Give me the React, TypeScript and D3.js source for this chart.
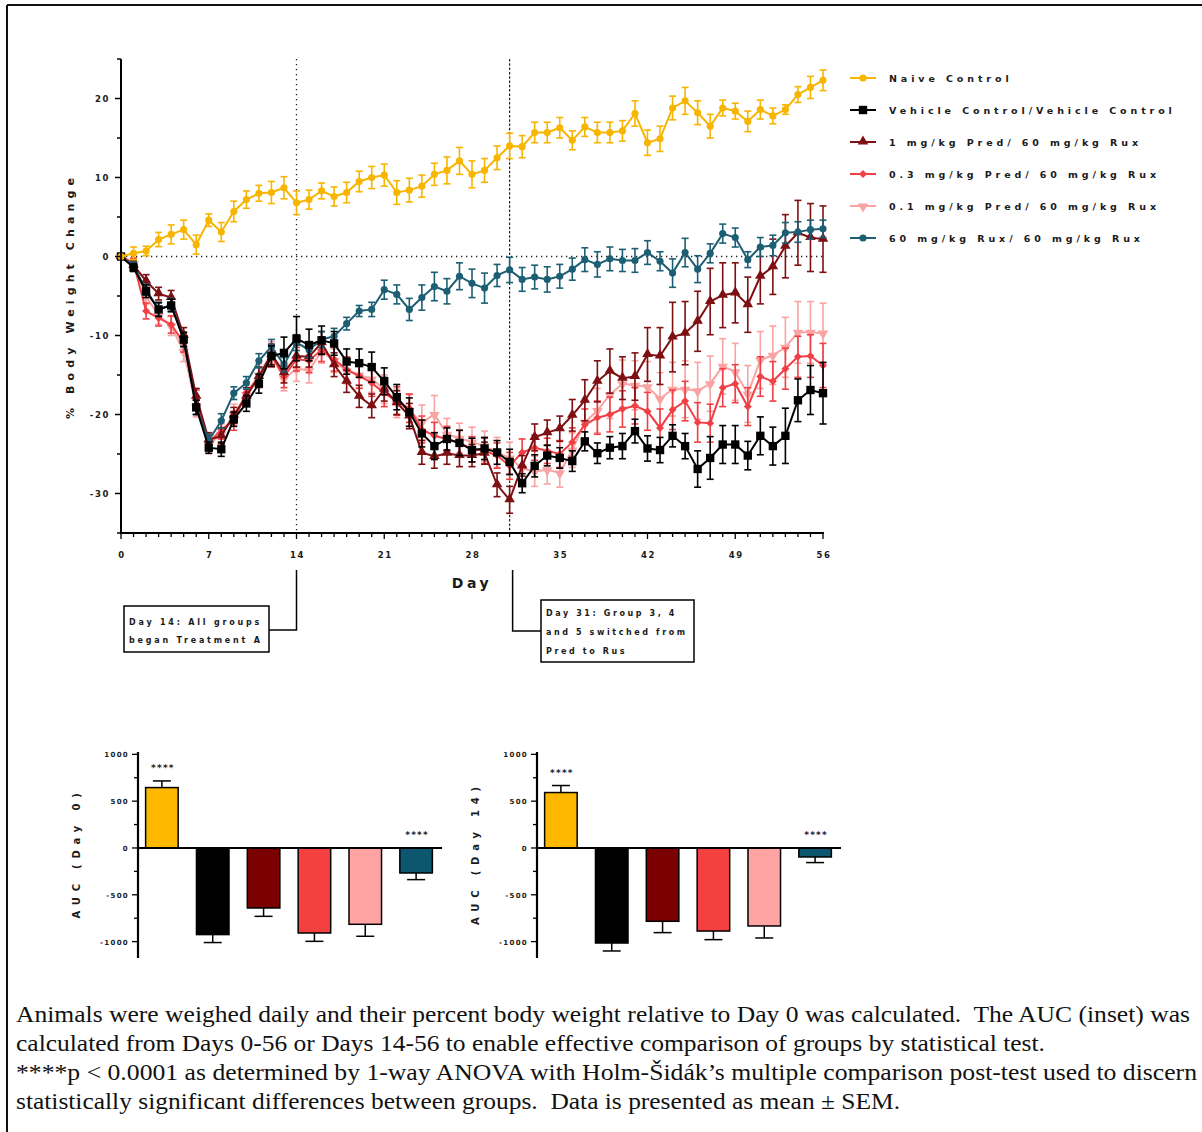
import React from "react";
import * as d3 from "d3";

const days = d3.range(0, 57);
const dayTicks = [0, 7, 14, 21, 28, 35, 42, 49, 56];
const yTicks = [20, 10, 0, -10, -20, -30];

const seriesNames = [
  "Naive Control",
  "Vehicle Control/Vehicle Control",
  "1 mg/kg Pred/ 60 mg/kg Rux",
  "0.3 mg/kg Pred/ 60 mg/kg Rux",
  "0.1 mg/kg Pred/ 60 mg/kg Rux",
  "60 mg/kg Rux/ 60 mg/kg Rux",
];
const seriesColors = ["#F7B500", "#000000", "#7E0F12", "#F04045", "#F9A3A3", "#1C5F74"];
const barColors = ["#FFB800", "#000000", "#7B0000", "#F54040", "#FFA3A3", "#0D5670"];

const naive = [0,0.4,0.7,2.15,2.8,3.4,1.5,4.6,3.1,5.7, 7.2,8.0,8.1,8.7,6.8,7.2,8.3,7.6,8.1,9.5, 10.0,10.3,8.1,8.4,8.9,10.4,10.9,12.1,10.4,10.9, 12.5,14.0,13.9,15.7,15.7,16.3,14.7,16.4,15.7,15.7, 15.9,18.1,14.4,14.9,18.8,19.7,18.2,16.5,18.8,18.4, 17.1,18.6,17.8,18.6,20.5,21.4,22.3];
const naiveSem = [0,0.8,0.6,0.9,1.2,1.2,1.2,0.8,1.2,1.3, 1.1,1.0,1.4,1.4,1.5,1.2,1.0,1.2,1.3,1.3, 1.4,1.4,1.5,1.5,1.4,1.4,1.7,1.7,1.7,1.5, 1.5,1.6,1.4,1.3,1.3,1.3,1.2,1.2,1.3,1.3, 1.3,1.6,1.6,1.6,1.5,1.7,1.5,1.5,1.0,1.0, 1.3,1.2,1.0,0.6,1.0,1.4,1.3];

const vehicle = [0,-1.4,-4.4,-6.7,-6.2,-10.5,-19.1,-24.2,-24.4,-20.6, -18.6,-16.1,-12.6,-12.2,-10.4,-11.2,-10.6,-11.0,-13.3,-13.5, -14.0,-15.8,-17.8,-19.7,-22.4,-24.0,-23.1,-23.6,-24.5,-24.3, -24.8,-26.0,-28.7,-26.5,-25.2,-25.5,-25.9,-23.4,-24.9,-24.2, -24.0,-22.1,-24.3,-24.5,-22.7,-24.0,-26.9,-25.5,-23.8,-23.8, -25.2,-22.7,-24.0,-22.7,-18.2,-16.9,-17.3];
const vehicleSem = [0,0.5,0.8,0.9,0.8,0.9,0.9,0.7,0.9,0.9, 1.0,1.2,1.3,2.0,2.8,2.0,1.8,1.5,1.6,1.8, 1.9,1.7,1.6,1.8,1.7,1.7,1.4,1.6,1.5,1.4, 1.5,1.6,1.2,1.4,1.3,1.3,1.3,1.2,1.3,1.4, 1.6,1.5,1.6,1.6,1.4,1.6,2.3,2.7,2.4,2.4, 1.8,2.4,2.4,3.5,2.7,3.1,3.9];

const pred1 = [0,-1.1,-3.1,-4.7,-5.2,-10.0,-17.7,-23.2,-22.7,-20.1, -17.7,-15.2,-12.4,-14.7,-12.6,-12.7,-10.9,-13.7,-15.8,-17.7, -18.9,-16.8,-18.5,-20.2,-24.8,-25.3,-24.9,-25.2,-25.2,-24.9, -28.9,-30.8,-26.5,-22.9,-22.3,-21.8,-20.1,-18.2,-15.8,-14.5, -15.4,-15.2,-12.4,-12.6,-10.2,-9.7,-8.2,-5.7,-4.9,-4.6, -6.1,-2.5,-1.3,1.3,3.0,2.4,2.2];
const pred1Sem = [0,0.6,0.8,0.8,0.9,1.0,1.0,0.9,1.0,1.0, 1.1,1.2,1.3,1.3,1.4,1.3,1.4,1.5,1.4,1.4, 1.5,1.5,1.5,1.6,1.5,1.5,1.4,1.4,1.4,1.4, 1.5,1.7,1.3,1.7,1.6,1.6,2.0,2.6,2.6,2.8, 2.7,3.0,3.4,3.6,4.4,4.0,3.8,4.2,4.1,3.8, 3.5,3.5,3.5,4.0,4.1,4.3,4.2];

const pred03 = [0,-0.8,-6.9,-7.8,-8.6,-10.9,-18.1,-23.6,-21.9,-20.8, -17.2,-15.3,-12.6,-15.2,-13.0,-13.2,-11.8,-13.0,-14.3,-15.1, -16.0,-17.3,-18.3,-19.2,-21.9,-22.7,-23.1,-23.6,-24.4,-24.6, -25.2,-26.5,-24.8,-24.2,-24.6,-25.0,-23.5,-21.3,-20.4,-20.0, -19.3,-18.9,-19.6,-21.7,-19.4,-18.3,-21.0,-21.1,-16.6,-16.1, -19.0,-15.2,-15.8,-14.2,-12.7,-12.6,-13.8];
const pred03Sem = [0,0.6,1.0,1.0,1.1,1.2,1.2,1.0,1.2,1.2, 1.3,1.3,1.4,1.4,1.5,1.5,1.5,1.5,1.6,1.6, 1.7,1.7,1.8,1.8,1.7,1.7,1.6,1.6,1.6,1.6, 1.6,1.7,1.7,1.6,1.6,1.7,1.8,2.0,2.1,2.2, 2.3,2.3,2.4,2.4,2.5,2.5,2.5,2.4,2.4,2.4, 2.4,2.5,2.5,2.6,2.6,2.7,2.8];

const pred01 = [0,-0.9,-5.0,-7.5,-8.8,-12.0,-19.0,-23.8,-22.5,-20.0, -17.5,-15.0,-12.2,-15.5,-14.2,-14.4,-12.0,-13.2,-14.5,-15.0, -15.5,-16.8,-18.6,-19.5,-21.0,-20.0,-22.5,-23.0,-23.5,-24.0, -24.8,-25.5,-26.8,-27.2,-27.0,-27.4,-24.5,-21.0,-19.5,-17.5, -16.1,-16.3,-16.5,-18.0,-16.8,-16.8,-17.0,-16.1,-13.9,-14.6, -17.4,-13.1,-12.5,-11.5,-9.6,-9.6,-9.7];
const pred01Sem = [0,0.6,1.0,1.1,1.2,1.3,1.3,1.2,1.3,1.3, 1.3,1.4,1.4,1.5,1.6,1.6,1.5,1.5,1.6,1.6, 1.7,1.8,1.8,2.0,2.2,2.4,2.0,1.9,1.9,1.9, 1.9,2.0,2.0,1.9,1.8,1.8,2.2,2.6,2.8,3.0, 3.0,3.1,3.2,3.3,3.4,3.6,3.6,3.5,3.5,3.6, 3.6,3.6,3.7,3.8,3.9,3.9,3.8];

const rux = [0,-1.2,-4.2,-6.7,-6.1,-10.5,-19.1,-23.3,-20.8,-17.3, -16.0,-13.2,-11.4,-13.7,-10.9,-11.8,-10.5,-10.1,-8.5,-6.9, -6.7,-4.2,-4.8,-6.7,-5.2,-3.8,-4.4,-2.5,-3.4,-4.0, -2.4,-1.7,-2.9,-2.6,-2.9,-2.5,-1.6,-0.4,-1.0,-0.3, -0.5,-0.5,0.5,-0.6,-2.1,0.5,-1.6,0.4,2.9,2.4, -0.4,1.2,1.4,3.0,3.1,3.4,3.5];
const ruxSem = [0,0.5,0.7,0.8,0.8,0.9,0.9,0.8,0.9,0.8, 0.8,0.9,0.9,0.9,1.0,1.0,1.0,1.0,0.8,0.7, 0.9,1.2,1.2,1.4,1.6,1.8,1.6,1.7,1.8,1.9, 1.4,1.6,1.5,1.5,1.6,1.5,1.4,1.5,1.6,1.5, 1.4,1.5,1.5,1.2,1.8,1.8,1.7,1.2,1.2,1.2, 1.0,1.2,1.3,1.3,1.3,1.2,1.1];

const aucDay0 = [645, -925, -641, -908, -815, -267];
const aucDay0Sem = [71, 85, 89, 89, 128, 71];
const aucDay14 = [592, -1015, -783, -887, -833, -96];
const aucDay14Sem = [75, 85, 121, 92, 128, 60];
const aucTicks = [1000, 500, 0, -500, -1000];
const aucStars = ["****", "", "", "", "", "****"];

const captionLines = [
  "Animals were weighed daily and their percent body weight relative to Day 0 was calculated.\u00A0 The AUC (inset) was",
  "calculated from Days 0-56 or Days 14-56 to enable effective comparison of groups by statistical test.",
  "****p < 0.0001 as determined by 1-way ANOVA with Holm-Šidák’s multiple comparison post-test used to discern",
  "statistically significant differences between groups.\u00A0 Data is presented as mean ± SEM.",
];
const captionWidths = [1174, 1029, 1181, 884];

const SANS = "'DejaVu Sans', 'Liberation Sans', sans-serif";

type Series = { name: string; color: string; values: number[]; sem: number[]; shape: string; size: number };

const series: Series[] = [
  { name: seriesNames[0], color: seriesColors[0], values: naive, sem: naiveSem, shape: "circle", size: 40 },
  { name: seriesNames[1], color: seriesColors[1], values: vehicle, sem: vehicleSem, shape: "square", size: 70 },
  { name: seriesNames[2], color: seriesColors[2], values: pred1, sem: pred1Sem, shape: "triangle", size: 48 },
  { name: seriesNames[3], color: seriesColors[3], values: pred03, sem: pred03Sem, shape: "diamond", size: 40 },
  { name: seriesNames[4], color: seriesColors[4], values: pred01, sem: pred01Sem, shape: "triangleDown", size: 48 },
  { name: seriesNames[5], color: seriesColors[5], values: rux, sem: ruxSem, shape: "circle", size: 40 },
];
const drawOrder = [4, 3, 2, 5, 1, 0];

function symbolPath(shape: string, size: number) {
  const t =
    shape === "circle" ? d3.symbolCircle :
    shape === "square" ? d3.symbolSquare :
    shape === "diamond" ? d3.symbolDiamond2 :
    d3.symbolTriangle;
  return d3.symbol().type(t).size(size)() as string;
}

function Marker({ s, x, y }: { s: Series; x: number; y: number }) {
  const rot = s.shape === "triangleDown" ? " rotate(180)" : "";
  const dy = s.shape === "triangle" ? -0.5 : s.shape === "triangleDown" ? 0.5 : 0;
  return <path d={symbolPath(s.shape, s.size)} transform={`translate(${x},${y + dy})${rot}`} fill={s.color} />;
}

const lbl = (size: number, ls: number) => ({
  fontFamily: SANS,
  fontWeight: "bold" as const,
  fontSize: size,
  fill: "#1a1a1a",
  style: { letterSpacing: `${ls}px` },
});

function MainChart() {
  const x = d3.scaleLinear().domain([0, 56]).range([121, 823]);
  const y = d3.scaleLinear().domain([-35, 25]).range([533, 59]);
  const line = d3.line<number>().x((_, i) => x(days[i])).y((v) => y(v));
  const minorY = d3.range(-35, 26, 5);
  return (
    <g>
      <line x1={x(0)} x2={x(56)} y1={y(0)} y2={y(0)} stroke="#222" strokeWidth={1.3} strokeDasharray="1.3,3.7" />
      <line x1={x(14)} x2={x(14)} y1={y(25)} y2={y(-35)} stroke="#222" strokeWidth={1.3} strokeDasharray="1.3,3.7" />
      <line x1={x(31)} x2={x(31)} y1={y(25)} y2={y(-35)} stroke="#222" strokeWidth={1.2} strokeDasharray="2.5,1.8" />

      {drawOrder.map((k) => {
        const s = series[k];
        return (
          <g key={s.name}>
            <path d={line(s.values) as string} fill="none" stroke={s.color} strokeWidth={2} />
            {s.values.map((v, i) => {
              if (s.sem[i] <= 0) return null;
              const x0 = x(days[i]);
              const yt = y(v + s.sem[i]);
              const yb = y(v - s.sem[i]);
              return (
                <g key={i} stroke={s.color} strokeWidth={1.6}>
                  <line x1={x0} x2={x0} y1={yt} y2={yb} />
                  <line x1={x0 - 3.5} x2={x0 + 3.5} y1={yt} y2={yt} />
                  <line x1={x0 - 3.5} x2={x0 + 3.5} y1={yb} y2={yb} />
                </g>
              );
            })}
            {s.values.map((v, i) => (
              <Marker key={"m" + i} s={s} x={x(days[i])} y={y(v)} />
            ))}
          </g>
        );
      })}

      <line x1={x(0)} x2={x(0)} y1={y(25)} y2={y(-35)} stroke="#000" strokeWidth={2} />
      {minorY.map((t) => (
        <line key={t} x1={x(0) - (t % 10 === 0 ? 6 : 4)} x2={x(0)} y1={y(t)} y2={y(t)} stroke="#000" strokeWidth={1.5} />
      ))}
      {yTicks.map((t) => (
        <text key={t} x={110} y={y(t) + 3.5} textAnchor="end" {...lbl(8.5, 1.6)}>
          {t}
        </text>
      ))}
      <text transform={`translate(74,${296}) rotate(-90)`} textAnchor="middle" {...lbl(11, 5.1)}>
        % Body Weight Change
      </text>

      <line x1={x(0) - 1} x2={x(56) + 1} y1={533} y2={533} stroke="#000" strokeWidth={2} />
      {days.map((d) => (
        <line key={d} x1={x(d)} x2={x(d)} y1={533} y2={533 + (d % 7 === 0 ? 6 : 4)} stroke="#000" strokeWidth={1.3} />
      ))}
      {dayTicks.map((d) => (
        <text key={d} x={x(d) + 1} y={558} textAnchor="middle" {...lbl(8.5, 1.6)}>
          {d}
        </text>
      ))}
      <text x={472} y={588} textAnchor="middle" {...lbl(14, 3.5)}>
        Day
      </text>

      <polyline points={`269,630 ${x(14)},630 ${x(14)},570`} fill="none" stroke="#000" strokeWidth={1.5} />
      <rect x={124} y={606} width={145} height={46} fill="#fff" stroke="#000" strokeWidth={1.5} />
      <text x={129} y={625} {...lbl(8, 2.8)}>Day 14: All groups</text>
      <text x={129} y={643} {...lbl(8, 2.8)}>began Treatment A</text>

      <polyline points={`${x(31) + 3},570 ${x(31) + 3},631 541,631`} fill="none" stroke="#000" strokeWidth={1.5} />
      <rect x={541} y={600} width={153} height={62} fill="#fff" stroke="#000" strokeWidth={1.5} />
      <text x={546} y={616} {...lbl(8, 2.6)}>Day 31: Group 3, 4</text>
      <text x={546} y={635} {...lbl(8, 2.6)}>and 5 switched from</text>
      <text x={546} y={654} {...lbl(8, 2.6)}>Pred to Rus</text>

      {series.map((s, i) => {
        const ly = 78 + i * 32;
        return (
          <g key={s.name}>
            <line x1={850} x2={876} y1={ly} y2={ly} stroke={s.color} strokeWidth={2} />
            <Marker s={s} x={863} y={ly} />
            <text x={889} y={ly + 4} {...lbl(9.5, 3.9)}>
              {s.name}
            </text>
          </g>
        );
      })}
    </g>
  );
}

function AucChart({ x0, values, sem, title }: { x0: number; values: number[]; sem: number[]; title: string }) {
  const y = d3.scaleLinear().domain([-1175, 1025]).range([958, 752]);
  const xb = d3.scaleBand<number>().domain(d3.range(values.length)).range([x0, x0 + 302]).paddingInner(0.36).paddingOuter(0.15);
  const minor = d3.range(-1000, 1001, 250);
  return (
    <g>
      {values.map((v, i) => {
        const bx = xb(i) as number;
        const bw = xb.bandwidth();
        const y0 = y(0);
        const yv = y(v);
        const ye = y(v + Math.sign(v) * sem[i]);
        const cx = bx + bw / 2;
        return (
          <g key={i}>
            <rect x={bx} y={Math.min(y0, yv)} width={bw} height={Math.abs(yv - y0)} fill={barColors[i]} stroke="#000" strokeWidth={1.5} />
            <line x1={cx} x2={cx} y1={yv} y2={ye} stroke="#000" strokeWidth={1.5} />
            <line x1={cx - 9} x2={cx + 9} y1={ye} y2={ye} stroke="#000" strokeWidth={1.5} />
            {aucStars[i] && (
              <text x={cx + 1} y={(v > 0 ? ye : y0) - 10} textAnchor="middle" {...lbl(9, 1.2)} fill="#223">
                {aucStars[i]}
              </text>
            )}
          </g>
        );
      })}
      <line x1={x0} x2={x0 + 304} y1={y(0)} y2={y(0)} stroke="#000" strokeWidth={2} />
      <line x1={x0} x2={x0} y1={752} y2={958} stroke="#000" strokeWidth={2.2} />
      {minor.map((t) => (
        <line key={t} x1={x0 - (t % 500 === 0 ? 6 : 4)} x2={x0} y1={y(t)} y2={y(t)} stroke="#000" strokeWidth={1.3} />
      ))}
      {aucTicks.map((t) => (
        <text key={t} x={x0 - 9} y={y(t) + 3} textAnchor="end" {...lbl(7, 1.3)}>
          {t}
        </text>
      ))}
      <text transform={`translate(${x0 - 58},${853}) rotate(-90)`} textAnchor="middle" {...lbl(10, 5.8)}>
        {title}
      </text>
    </g>
  );
}

export default function App() {
  return (
    <div style={{ position: "fixed", left: 0, top: 0 }}>
      <svg width={1202} height={1132} style={{ display: "block", background: "#fff" }}>
        <rect x={0} y={0} width={1202} height={1132} fill="#fff" />
        <line x1={7} x2={1202} y1={5} y2={5} stroke="#111" strokeWidth={2} />
        <line x1={7} x2={7} y1={5} y2={1132} stroke="#111" strokeWidth={2} />
        <MainChart />
        <AucChart x0={138} values={aucDay0} sem={aucDay0Sem} title="AUC (Day 0)" />
        <AucChart x0={537} values={aucDay14} sem={aucDay14Sem} title="AUC (Day 14)" />
        {captionLines.map((t, i) => (
          <text key={i} x={16} y={1022 + i * 29} fontFamily="'Liberation Serif', 'Times New Roman', serif" fontSize={23.5} fill="#111" textLength={captionWidths[i]} lengthAdjust="spacingAndGlyphs">
            {t}
          </text>
        ))}
      </svg>
    </div>
  );
}
